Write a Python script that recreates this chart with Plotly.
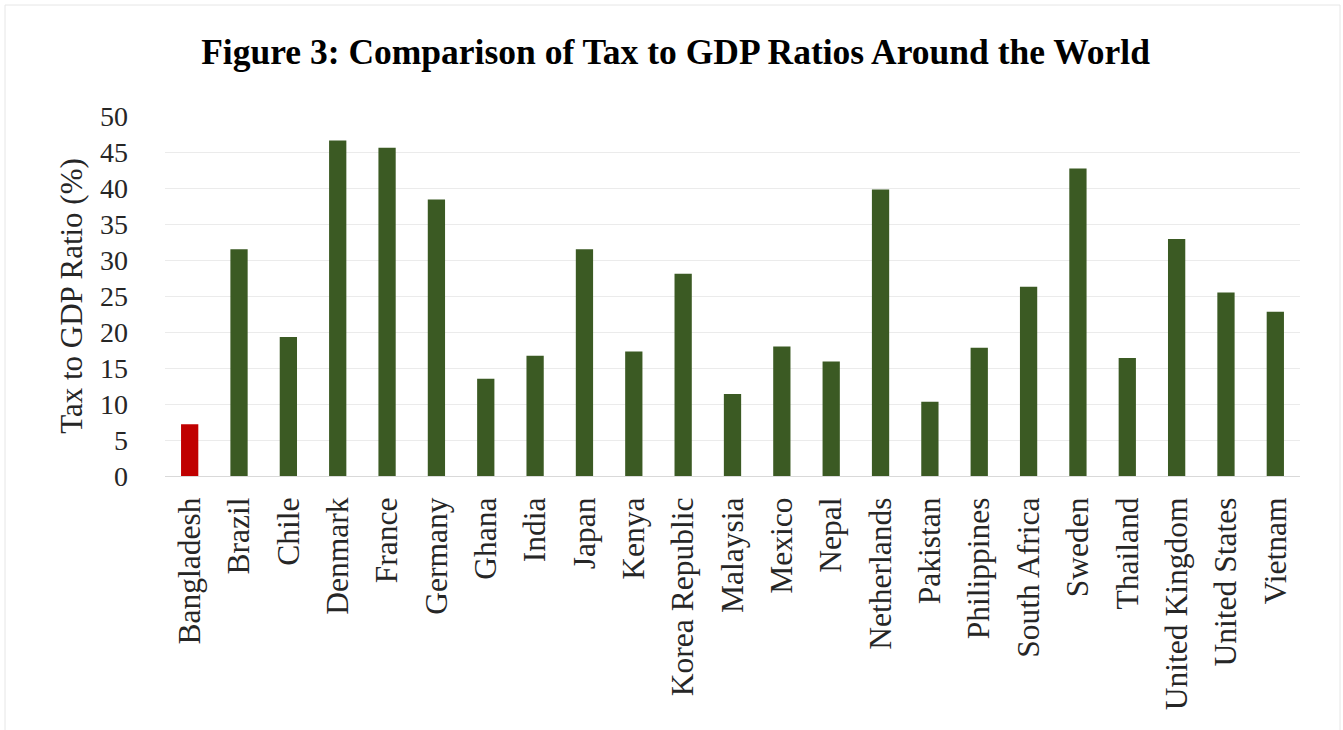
import plotly.graph_objects as go

countries = ["Bangladesh", "Brazil", "Chile", "Denmark", "France", "Germany", "Ghana",
             "India", "Japan", "Kenya", "Korea Republic", "Malaysia", "Mexico", "Nepal",
             "Netherlands", "Pakistan", "Philippines", "South Africa", "Sweden", "Thailand",
             "United Kingdom", "United States", "Vietnam"]
tax_to_gdp = [7.2, 31.5, 19.3, 46.6, 45.6, 38.4, 13.5,
              16.7, 31.5, 17.3, 28.1, 11.4, 18.0, 15.9,
              39.8, 10.3, 17.8, 26.3, 42.7, 16.4,
              32.9, 25.5, 22.8]
highlight = "Bangladesh"

bar_colors = ["#c00000" if c == highlight else "#3b5a23" for c in countries]

font_family = "Liberation Serif, Times New Roman, serif"

W, H = 1343, 730
L, R, T, B = 165, 43, 116, 254
plot_w, plot_h = W - L - R, H - T - B

fig = go.Figure(go.Bar(
    x=countries,
    y=tax_to_gdp,
    marker=dict(color=bar_colors, line=dict(width=0)),
    hoverinfo="x+y",
))

fig.update_layout(
    width=W,
    height=H,
    paper_bgcolor="white",
    plot_bgcolor="white",
    margin=dict(l=L, r=R, t=T, b=B),
    bargap=0.65,
    showlegend=False,
    font=dict(family=font_family, color="#262626"),
    title=dict(
        text="<b>Figure 3: Comparison of Tax to GDP Ratios Around the World</b>",
        x=0.503, xanchor="center", xref="container",
        y=1 - 52 / H, yref="container", yanchor="middle",
        font=dict(family=font_family, size=35.5, color="black"),
    ),
    xaxis=dict(
        tickangle=-90,
        tickfont=dict(size=31.5, color="#262626"),
        showgrid=False,
        showline=True,
        linecolor="#d9d9d9",
        linewidth=1,
        ticks="",
        ticklabelstandoff=8,
    ),
    yaxis=dict(
        range=[0, 50],
        dtick=5,
        tick0=0,
        tickfont=dict(size=28, color="#262626"),
        showgrid=True,
        gridcolor="#ebebeb",
        gridwidth=1,
        zeroline=False,
        showline=False,
        ticks="",
        ticklabelstandoff=36,
        title=dict(text="Tax to GDP Ratio (%)", font=dict(size=31, color="#262626"), standoff=8),
    ),
    shapes=[dict(
        type="rect", xref="paper", yref="paper",
        x0=(5 - L) / plot_w, x1=(1340 - L) / plot_w,
        y0=-(B + 10) / plot_h, y1=1 + (T - 5) / plot_h,
        line=dict(color="#e6e6e6", width=1), fillcolor="rgba(0,0,0,0)",
    )],
)

fig.write_html("out.html")
